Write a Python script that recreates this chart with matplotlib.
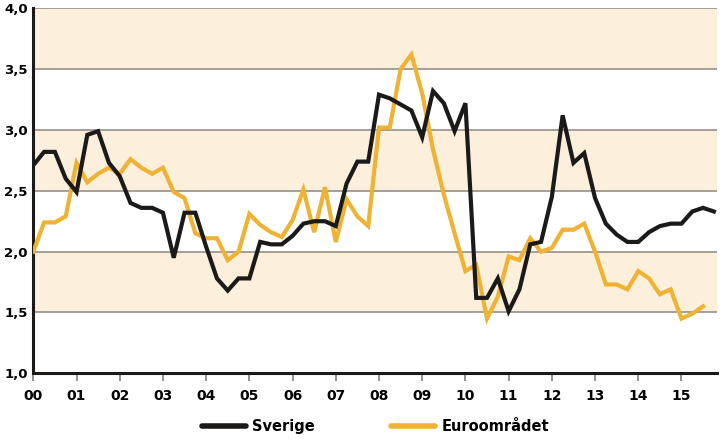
import numpy as np
import matplotlib
matplotlib.use("Agg")
import matplotlib.pyplot as plt
from matplotlib.lines import Line2D

# Data (quarterly, 2000 Q1 onwards)
sverige = [2.71, 2.82, 2.82, 2.60, 2.49, 2.96, 2.99, 2.73, 2.62, 2.40, 2.36, 2.36,
           2.32, 1.95, 2.32, 2.32, 2.04, 1.78, 1.68, 1.78, 1.78, 2.08, 2.06, 2.06,
           2.13, 2.23, 2.25, 2.25, 2.21, 2.56, 2.74, 2.74, 3.29, 3.26, 3.21, 3.16,
           2.94, 3.32, 3.22, 2.99, 3.22, 1.62, 1.62, 1.78, 1.51, 1.69, 2.06, 2.08,
           2.45, 3.12, 2.73, 2.81, 2.44, 2.23, 2.14, 2.08, 2.08, 2.16, 2.21, 2.23,
           2.23, 2.33, 2.36, 2.33]
euro = [2.00, 2.24, 2.24, 2.29, 2.73, 2.57, 2.64, 2.69, 2.64, 2.76, 2.69, 2.64,
        2.69, 2.49, 2.44, 2.15, 2.11, 2.11, 1.93, 2.00, 2.31, 2.22, 2.16, 2.12,
        2.26, 2.51, 2.16, 2.53, 2.08, 2.43, 2.29, 2.21, 3.02, 3.02, 3.50, 3.62,
        3.30, 2.84, 2.47, 2.15, 1.84, 1.89, 1.45, 1.63, 1.96, 1.93, 2.11, 2.00,
        2.03, 2.18, 2.18, 2.23, 2.00, 1.73, 1.73, 1.69, 1.84, 1.78, 1.65, 1.69,
        1.45, 1.49, 1.55]
year_labels = ["00", "01", "02", "03", "04", "05", "06", "07",
               "08", "09", "10", "11", "12", "13", "14", "15"]
y_ticks = [1.0, 1.5, 2.0, 2.5, 3.0, 3.5, 4.0]
bands = [(1.5, 2.0), (2.5, 3.0), (3.5, 4.0)]

# Style
BLACK = '#1c1a19'
ORANGE = '#efb233'
BAND = '#fcefdc'
GRID = '#8c8782'
plt.rcParams.update({'font.family': ['Liberation Sans Narrow', 'DejaVu Sans'],
                     'font.size': 10, 'font.weight': 'bold'})

fig = plt.figure(figsize=(7.24, 4.42), dpi=100)
ax = fig.add_axes([0.046, 0.1554, 0.9448, 0.8258])

for lo, hi in bands:
    ax.axhspan(lo, hi, color=BAND, lw=0, zorder=0)
for yv in y_ticks[1:]:
    ax.axhline(yv, color=GRID, lw=1.1, zorder=1)

x_sv = np.arange(len(sverige)) / 4.0
x_eu = np.arange(len(euro)) / 4.0
ax.plot(x_eu, euro, color=ORANGE, lw=3.0, solid_joinstyle='miter', zorder=3)
ax.plot(x_sv, sverige, color=BLACK, lw=3.0, solid_joinstyle='miter', zorder=4)

ax.set_xlim(0, 15.83)
ax.set_ylim(1.0, 4.0)
ax.set_xticks(range(len(year_labels)))
ax.set_xticklabels(year_labels, fontsize=10)
ax.set_yticks(y_ticks)
ax.set_yticklabels([f"{v:.1f}".replace('.', ',') for v in y_ticks], fontsize=9.5)

for s in ['top', 'right']:
    ax.spines[s].set_visible(False)
for s in ['left', 'bottom']:
    ax.spines[s].set_linewidth(2.2)
    ax.spines[s].set_color(BLACK)
ax.tick_params(axis='x', direction='out', length=6, width=1.3, color=GRID, pad=5)
ax.tick_params(axis='y', length=0, pad=4)

# legend, one entry each so they sit where the reference has them
entries = [(BLACK, 'Sverige', 202 / 724), (ORANGE, 'Euroområdet', 391 / 724)]
for col, lab, xpos in entries:
    h = Line2D([], [], color=col, lw=4, solid_capstyle='round')
    fig.legend([h], [lab], loc='center left', bbox_to_anchor=(xpos, 0.034),
               frameon=False, borderpad=0, borderaxespad=0, handlelength=3.0,
               handletextpad=0.45, prop={'size': 10.5, 'weight': 'bold'})

fig.savefig('out.png', dpi=100)
